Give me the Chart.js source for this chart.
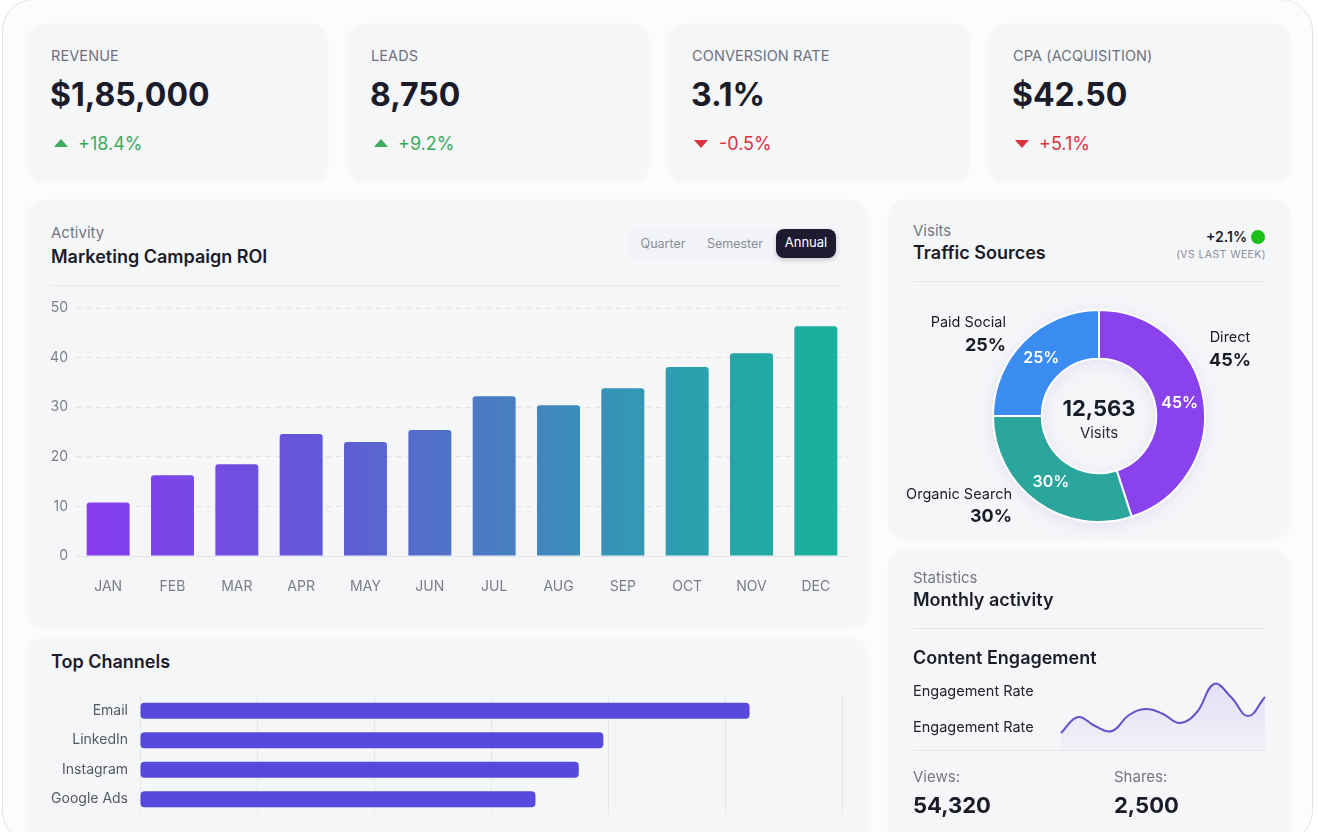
<!DOCTYPE html>
<html>
<head>
<meta charset="utf-8">
<script src="https://cdn.jsdelivr.net/npm/chart.js@4.4.0/dist/chart.umd.min.js"></script>
<style>
  body { margin:0; width:1318px; height:832px; overflow:hidden; background:#fff; font-family: Inter, "Noto Sans", sans-serif; color:#1b1c2a; }
  .frame { position:absolute; left:2px; top:-1px; width:1309px; height:842px; border:1px solid #e2e3e7; border-radius:32px; background:#fcfcfd; }
  .card { position:absolute; background:#f5f6f8; border-radius:16px; box-shadow:0 1px 4px rgba(20,20,40,0.04); }
  .t { position:absolute; white-space:nowrap; transform:translateY(-50%); line-height:1.2; }
  .r { transform:translate(-100%,-50%); }
  .c { transform:translate(-50%,-50%); }
  .lbl { font-size:14.5px; color:#6e717c; letter-spacing:0.1px; }
  .val { font-size:32px; font-weight:700; color:#1b1c2a; }
  .up { font-size:18px; color:#3bab5d; }
  .down { font-size:18px; color:#d8343f; }
  .tri-up { position:absolute; width:0; height:0; border-left:7px solid transparent; border-right:7px solid transparent; border-bottom:8px solid #3bab5d; }
  .tri-down { position:absolute; width:0; height:0; border-left:7px solid transparent; border-right:7px solid transparent; border-top:8px solid #d8343f; }
  .sub { font-size:15px; color:#74777f; }
  .title { font-size:18px; font-weight:600; color:#1b1c2a; }
  .divider { position:absolute; height:1px; background:#e5e6ea; }
  .box { position:absolute; }
</style>
</head>
<body>
<div class="frame"></div>

<!-- KPI cards -->
<div class="card" style="left:28px;top:24px;width:299px;height:157px"></div>
<div class="card" style="left:348px;top:24px;width:300px;height:157px"></div>
<div class="card" style="left:668px;top:24px;width:301px;height:157px"></div>
<div class="card" style="left:989px;top:24px;width:301px;height:157px"></div>

<div class="t lbl" style="left:51px;top:56px">REVENUE</div>
<div class="t val" style="left:50px;top:95px">$1,85,000</div>
<div class="tri-up" style="left:54px;top:139px"></div>
<div class="t up" style="left:78px;top:144px">+18.4%</div>

<div class="t lbl" style="left:371px;top:56px">LEADS</div>
<div class="t val" style="left:370px;top:95px">8,750</div>
<div class="tri-up" style="left:374px;top:139px"></div>
<div class="t up" style="left:398px;top:144px">+9.2%</div>

<div class="t lbl" style="left:692px;top:56px">CONVERSION RATE</div>
<div class="t val" style="left:691px;top:95px">3.1%</div>
<div class="tri-down" style="left:694px;top:140px"></div>
<div class="t down" style="left:719px;top:144px">-0.5%</div>

<div class="t lbl" style="left:1013px;top:56px">CPA (ACQUISITION)</div>
<div class="t val" style="left:1012px;top:95px">$42.50</div>
<div class="tri-down" style="left:1015px;top:140px"></div>
<div class="t down" style="left:1039px;top:144px">+5.1%</div>

<!-- ROI card -->
<div class="card" style="left:28px;top:200px;width:839px;height:426px"></div>
<div class="t sub" style="left:51px;top:233px">Activity</div>
<div class="t title" style="left:51px;top:257px">Marketing Campaign ROI</div>
<div class="box" style="left:628px;top:228px;width:212px;height:32px;background:#f2f3f6;border-radius:10px"></div>
<div class="t c" style="left:663px;top:243px;font-size:12.5px;color:#8a8d96">Quarter</div>
<div class="t c" style="left:735px;top:243px;font-size:12.5px;color:#8a8d96">Semester</div>
<div class="box" style="left:776px;top:229px;width:60px;height:29px;background:#1e1b31;border-radius:8px;box-shadow:0 2px 5px rgba(0,0,0,0.18)"></div>
<div class="t c" style="left:806px;top:243px;font-size:13px;color:#fff">Annual</div>
<div class="divider" style="left:51px;top:285px;width:792px"></div>
<div class="box" style="left:40px;top:290px;width:810px;height:315px"><canvas id="roiChart"></canvas></div>

<!-- Traffic card -->
<div class="card" style="left:889px;top:200px;width:401px;height:338px"></div>
<div class="t sub" style="left:913px;top:231px">Visits</div>
<div class="t title" style="left:913px;top:253px">Traffic Sources</div>
<div class="t r" style="left:1247px;top:237px;font-size:14px;font-weight:600">+2.1%</div>
<div class="box" style="left:1251px;top:230px;width:14px;height:14px;border-radius:50%;background:#19c01a"></div>
<div class="t r" style="left:1266px;top:255px;font-size:10.5px;color:#8c8f98;letter-spacing:0.4px">(VS LAST WEEK)</div>
<div class="divider" style="left:913px;top:281px;width:353px"></div>
<div class="box" style="left:992px;top:309px;width:214px;height:214px;filter:drop-shadow(0 3px 8px rgba(110,70,210,0.12))"><canvas id="trafficChart"></canvas></div>
<div class="t c" style="left:1099px;top:408px;font-size:22px;font-weight:700">12,563</div>
<div class="t c" style="left:1099px;top:433px;font-size:15px;color:#2a2b36">Visits</div>
<div id="trafficLabels"></div>

<!-- Top channels -->
<div class="card" style="left:28px;top:638px;width:839px;height:210px"></div>
<div class="t title" style="left:51px;top:662px">Top Channels</div>
<div class="box" style="left:40px;top:690px;width:810px;height:130px"><canvas id="channelChart"></canvas></div>

<!-- Monthly activity -->
<div class="card" style="left:889px;top:550px;width:401px;height:300px"></div>
<div class="t sub" style="left:913px;top:578px">Statistics</div>
<div class="t title" style="left:913px;top:600px">Monthly activity</div>
<div class="divider" style="left:913px;top:628px;width:353px"></div>
<div class="t title" style="left:913px;top:658px">Content Engagement</div>
<div class="t" style="left:913px;top:691px;font-size:14.5px;color:#22232e">Engagement Rate</div>
<div class="t" style="left:913px;top:727px;font-size:14.5px;color:#22232e">Engagement Rate</div>
<div class="box" style="left:1059px;top:676px;width:208px;height:74px"><canvas id="sparkChart"></canvas></div>
<div class="divider" style="left:913px;top:750px;width:353px"></div>
<div class="t sub" style="left:913px;top:777px">Views:</div>
<div class="t sub" style="left:1114px;top:777px">Shares:</div>
<div class="t" style="left:913px;top:805px;font-size:22px;font-weight:700">54,320</div>
<div class="t" style="left:1114px;top:805px;font-size:22px;font-weight:700">2,500</div>

<script>
// ROI by month
const months = ['JAN', 'FEB', 'MAR', 'APR', 'MAY', 'JUN', 'JUL', 'AUG', 'SEP', 'OCT', 'NOV', 'DEC'];
const roiValues = [10.8, 16.3, 18.5, 24.6, 23.0, 25.4, 32.2, 30.4, 33.8, 38.1, 40.9, 46.3];
const roiTicks = [0, 10, 20, 30, 40, 50];

// traffic sources
const trafficLabels = ['Direct', 'Organic Search', 'Paid Social'];
const trafficShare = [45, 30, 25];
const trafficColors = ['#8a42ec', '#2ba69c', '#3a8cf0'];

// top channels
const channels = ['Email', 'LinkedIn', 'Instagram', 'Google Ads'];
const channelValues = [52.1, 39.6, 37.5, 33.8];

// engagement sparkline
const engagementPoints = ['1', '2', '3', '4', '5', '6', '7', '8', '9', '10', '11', '12', '13'];
const engagementValues = [17, 33, 24, 19, 35, 41, 36, 27, 38, 66, 53, 34, 53];

Chart.defaults.font.family = 'Inter, "Noto Sans", sans-serif';
Chart.defaults.animation = false;
Chart.defaults.plugins.legend.display = false;
Chart.defaults.plugins.tooltip.enabled = false;

// the scales add tick padding to the chart edges, drop it so layout.padding rules
function noPad(s) {
    s.paddingTop = 0;
    s.paddingBottom = 0;
    s.paddingLeft = 0;
    s.paddingRight = 0;
}

function roiGradient(context) {
    const chart = context.chart;
    const area = chart.chartArea;
    if (!area) return '#6a55d8';
    const g = chart.ctx.createLinearGradient(area.left, 0, area.right, 0);
    g.addColorStop(0, '#8a3bf2');
    g.addColorStop(0.3, '#6456d8');
    g.addColorStop(0.5, '#4e76c6');
    g.addColorStop(0.75, '#2f9cb2');
    g.addColorStop(1, '#16b398');
    return g;
}

new Chart(document.getElementById('roiChart'), {
    type: 'bar',
    data: {
        labels: months,
        datasets: [{
            data: roiValues,
            backgroundColor: roiGradient,
            borderRadius: { topLeft: 3, topRight: 3 },
            borderSkipped: 'bottom',
            barPercentage: 0.668,
            categoryPercentage: 1
        }]
    },
    options: {
        responsive: true,
        maintainAspectRatio: false,
        layout: { padding: { top: 18, right: 2, left: 0, bottom: 0 } },
        scales: {
            x: {
                grid: { display: false, drawTicks: false },
                border: { display: true, color: '#e3e4e9' },
                ticks: { color: '#7b7e88', font: { size: 14 }, padding: 22 },
                afterFit: s => { noPad(s); s.height = 49; }
            },
            y: {
                min: 0,
                max: 50,
                afterBuildTicks: s => { s.ticks = roiTicks.map(v => ({ value: v })); },
                grid: {
                    drawTicks: false,
                    color: c => c.tick && c.tick.value === 0 ? 'rgba(0,0,0,0)' : '#e2e3e8'
                },
                border: { display: false, dash: [5, 5] },
                ticks: { color: '#7b7e88', font: { size: 14 }, padding: 8 },
                afterFit: s => { noPad(s); s.width = 36; }
            }
        }
    }
});

const arcLabels = {
    id: 'arcLabels',
    afterDatasetsDraw(chart) {
        const ctx = chart.ctx;
        ctx.save();
        ctx.fillStyle = '#ffffff';
        ctx.font = '600 16px Inter, "Noto Sans", sans-serif';
        ctx.textAlign = 'center';
        ctx.textBaseline = 'middle';
        chart.getDatasetMeta(0).data.forEach((arc, i) => {
            const p = arc.tooltipPosition();
            ctx.fillText(trafficShare[i] + '%', p.x, p.y);
        });
        ctx.restore();
    }
};

new Chart(document.getElementById('trafficChart'), {
    type: 'doughnut',
    data: {
        labels: trafficLabels,
        datasets: [{
            data: trafficShare,
            backgroundColor: trafficColors,
            borderColor: '#ffffff',
            borderWidth: 2
        }]
    },
    options: {
        responsive: true,
        maintainAspectRatio: false,
        cutout: '54%',
        layout: { padding: 0 }
    },
    plugins: [arcLabels]
});

// outside labels of the donut
const outside = [
    { x: 1230, y1: 337, y2: 360, align: 'c' },
    { x: 1012, y1: 494, y2: 516, align: 'r' },
    { x: 1006, y1: 322, y2: 345, align: 'r' }
];
let html = '';
trafficLabels.forEach((name, i) => {
    const o = outside[i];
    html += '<div class="t ' + o.align + '" style="left:' + o.x + 'px;top:' + o.y1 + 'px;font-size:14.5px;color:#1b1c2a">' + name + '</div>';
    html += '<div class="t ' + o.align + '" style="left:' + o.x + 'px;top:' + o.y2 + 'px;font-size:18px;font-weight:700;color:#1b1c2a">' + trafficShare[i] + '%</div>';
});
document.getElementById('trafficLabels').innerHTML = html;

new Chart(document.getElementById('channelChart'), {
    type: 'bar',
    data: {
        labels: channels,
        datasets: [{
            data: channelValues,
            backgroundColor: '#5649db',
            borderRadius: 4,
            borderSkipped: false,
            barPercentage: 0.55,
            categoryPercentage: 1
        }]
    },
    options: {
        indexAxis: 'y',
        responsive: true,
        maintainAspectRatio: false,
        layout: { padding: { top: 6, right: 8, bottom: 6, left: 0 } },
        scales: {
            x: {
                min: 0,
                max: 60,
                ticks: { display: false, stepSize: 10 },
                grid: { color: '#e6e7eb', drawTicks: false },
                border: { display: false },
                afterFit: s => { noPad(s); s.height = 0; }
            },
            y: {
                grid: { display: false, drawTicks: false },
                border: { display: false },
                ticks: { color: '#555865', font: { size: 14 }, padding: 12 },
                afterFit: s => { noPad(s); s.width = 100; }
            }
        }
    }
});

function sparkFill(context) {
    const chart = context.chart;
    const area = chart.chartArea;
    if (!area) return 'rgba(120,90,230,0.1)';
    const g = chart.ctx.createLinearGradient(0, area.top, 0, area.bottom);
    g.addColorStop(0, 'rgba(125,95,235,0.16)');
    g.addColorStop(1, 'rgba(125,95,235,0.03)');
    return g;
}

new Chart(document.getElementById('sparkChart'), {
    type: 'line',
    data: {
        labels: engagementPoints,
        datasets: [{
            data: engagementValues,
            borderColor: '#6a4fc9',
            borderWidth: 2,
            tension: 0.42,
            pointRadius: 0,
            fill: 'start',
            backgroundColor: sparkFill
        }]
    },
    options: {
        responsive: true,
        maintainAspectRatio: false,
        layout: { padding: { left: 2, right: 2, top: 0, bottom: 0 } },
        scales: {
            x: { display: false },
            y: { display: false, min: 0, max: 74 }
        }
    }
});
</script>
</body>
</html>
